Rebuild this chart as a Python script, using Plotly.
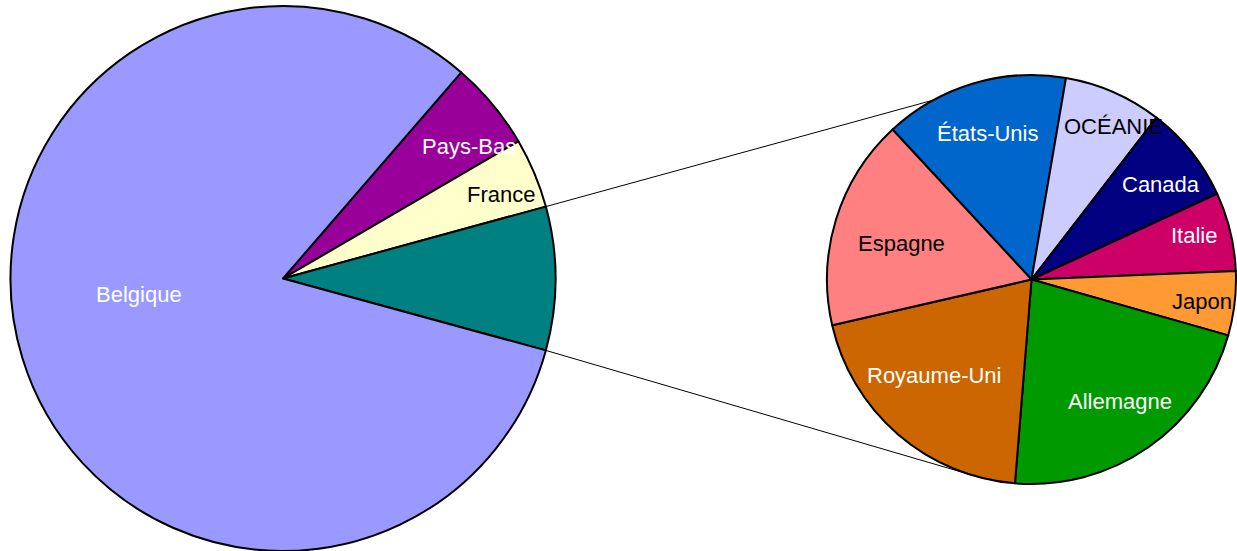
import math
import plotly.graph_objects as go

# Main pie: share of arrivals (%) by country of origin
main_labels = ["Pays-Bas", "France", "Autres", "Belgique"]
main_values = [5.25, 4.15, None, 82.1]

# Detail pie: breakdown of the "Autres" slice
detail_labels = ["États-Unis", "OCÉANIE", "Canada", "Italie", "Japon",
                 "Allemagne", "Royaume-Uni", "Espagne"]
detail_values = [1.24, 0.66, 0.65, 0.53, 0.43, 1.86, 1.71, 1.42]

# the "Autres" slice is the sum of the detail pie
main_values[2] = round(sum(detail_values), 4)

main_colors = ["#990099", "#FFFFCC", "#008080", "#9999FF"]
main_text_colors = ["white", "black", None, "white"]
# label placement: radius fraction and clockwise shift (deg) from slice middle
main_label_r = [0.836, 0.857, 0.0, 0.533]
main_label_shift = [4.3, 1.6, 0.0, 10.65]

detail_colors = ["#0066CC", "#CCCCFF", "#000080", "#CC0066", "#FF9933",
                 "#009900", "#CC6600", "#FF8080"]
detail_text_colors = ["white", "black", "white", "white", "black",
                      "white", "white", "black"]
detail_label_r = [0.743, 0.85, 0.788, 0.823, 0.839, 0.737, 0.669, 0.661]
detail_label_shift = [-0.1, 4.4, 2.3, -1.6, 0.7, -1.15, 4.45, -1.6]

W, H = 1237, 551
FONT = "Arial, Liberation Sans, sans-serif"
FONT_SIZE = 22

# pie placement in pixels (center x, center y, radius)
main_geom = (283.0, 278.5, 272.5)
detail_geom = (1031.5, 279.5, 204.5)

# clockwise angles from 12 o'clock; centre the "Autres" slice at 3 o'clock
total = sum(main_values)
main_rotation = 90 - 360 * (main_values[0] + main_values[1] + main_values[2] / 2) / total
detail_rotation = -42.8


def domain(geom):
    cx, cy, r = geom
    return dict(x=[(cx - r) / W, (cx + r) / W],
                y=[max(0.0, 1 - (cy + r) / H), min(1.0, 1 - (cy - r) / H)])


def point(geom, clock_deg, frac=1.0):
    """pixel position on a pie for an angle measured clockwise from 12 o'clock"""
    cx, cy, r = geom
    a = math.radians(clock_deg)
    return cx + frac * r * math.sin(a), cy - frac * r * math.cos(a)


def to_paper(px, py):
    return px / W, 1 - py / H


fig = go.Figure()
fig.add_trace(go.Pie(
    labels=main_labels, values=main_values, sort=False,
    direction="clockwise", rotation=main_rotation,
    marker=dict(colors=main_colors, line=dict(color="black", width=2)),
    textinfo="none", hoverinfo="label+value", showlegend=False,
    domain=domain(main_geom),
))
fig.add_trace(go.Pie(
    labels=detail_labels, values=detail_values, sort=False,
    direction="clockwise", rotation=detail_rotation,
    marker=dict(colors=detail_colors, line=dict(color="black", width=2)),
    textinfo="none", hoverinfo="label+value", showlegend=False,
    domain=domain(detail_geom),
))


def add_labels(geom, labels, values, rotation, colors, fracs, shifts):
    tot = sum(values)
    start = rotation
    for lab, val, col, fr, sh in zip(labels, values, colors, fracs, shifts):
        span = 360 * val / tot
        mid = start + span / 2
        start += span
        if col is None:
            continue
        x, y = to_paper(*point(geom, mid + sh, fr))
        fig.add_annotation(x=x, y=y, xref="paper", yref="paper", text=lab,
                           showarrow=False, xanchor="center", yanchor="middle",
                           font=dict(family=FONT, size=FONT_SIZE, color=col))


add_labels(main_geom, main_labels, main_values, main_rotation,
           main_text_colors, main_label_r, main_label_shift)
add_labels(detail_geom, detail_labels, detail_values, detail_rotation,
           detail_text_colors, detail_label_r, detail_label_shift)

# connector lines from the edges of the "Autres" slice to the detail pie
a_top = main_rotation + 360 * (main_values[0] + main_values[1]) / total
a_bot = a_top + 360 * main_values[2] / total
attach_top = 90 - 118.7
attach_bot = 90 - 255.4
for a_src, a_dst in ((a_top, attach_top), (a_bot, attach_bot)):
    x0, y0 = to_paper(*point(main_geom, a_src))
    x1, y1 = to_paper(*point(detail_geom, a_dst))
    fig.add_shape(type="line", xref="paper", yref="paper",
                  x0=x0, y0=y0, x1=x1, y1=y1,
                  line=dict(color="black", width=1), layer="below")

fig.update_layout(
    width=W, height=H,
    margin=dict(l=0, r=0, t=0, b=0),
    paper_bgcolor="white", plot_bgcolor="white",
    font=dict(family=FONT),
)

fig.write_html("out.html", config={"displayModeBar": False})
